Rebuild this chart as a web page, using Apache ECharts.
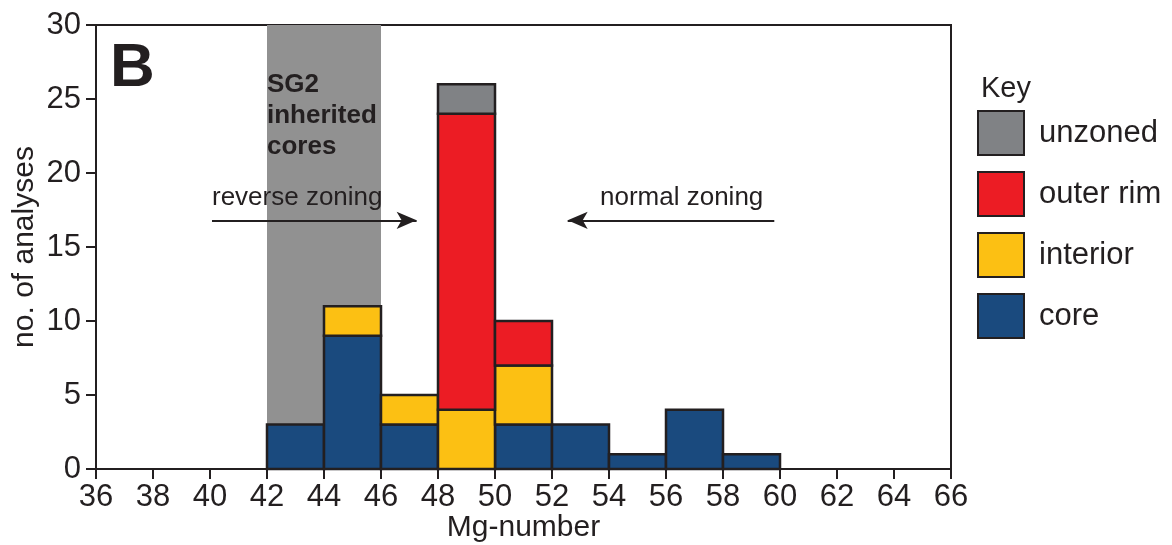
<!DOCTYPE html>
<html>
<head>
<meta charset="utf-8">
<title>Mg-number histogram</title>
<script src="https://cdn.jsdelivr.net/npm/echarts@6/dist/echarts.min.js"></script>
<style>
  html, body { margin: 0; padding: 0; background: #ffffff; }
  #chart { width: 1172px; height: 545px; }
</style>
</head>
<body>
<div id="chart"></div>
<script>
// Histogram bins (Mg-number, bin width 2)
const binStart = [42, 44, 46, 48, 50, 52, 54, 56, 58];
const binWidth = 2;

// Counts per zone, stacked bottom-up: core, interior, outer rim, unzoned
const core     = [3, 9, 3, 0, 3, 3, 1, 4, 1];
const interior = [0, 2, 2, 4, 4, 0, 0, 0, 0];
const outerRim = [0, 0, 0, 20, 3, 0, 0, 0, 0];
const unzoned  = [0, 0, 0, 2, 0, 0, 0, 0, 0];

const xTicks = [36, 38, 40, 42, 44, 46, 48, 50, 52, 54, 56, 58, 60, 62, 64, 66];
const yTicks = [0, 5, 10, 15, 20, 25, 30];

// Inherited-core range (Mg-number)
const sg2Range = [42, 46];

const INK = '#231f20';
const FONT = '"Liberation Sans", Arial, Helvetica, sans-serif';

const layers = [
  { name: 'core',      values: core,     color: '#1a4a7e' },
  { name: 'interior',  values: interior, color: '#fcc013' },
  { name: 'outer rim', values: outerRim, color: '#ec1c24' },
  { name: 'unzoned',   values: unzoned,  color: '#808285' }
];

// Build [x0, x1, y0, y1] rows for each stacked layer
const running = binStart.map(() => 0);
const layerRows = layers.map(layer => {
  const rows = [];
  layer.values.forEach((v, i) => {
    const y0 = running[i];
    const y1 = y0 + v;
    running[i] = y1;
    if (v > 0) rows.push([binStart[i], binStart[i] + binWidth, y0, y1]);
  });
  return rows;
});

function renderBar(params, api) {
  const p0 = api.coord([api.value(0), api.value(3)]);
  const p1 = api.coord([api.value(1), api.value(2)]);
  return {
    type: 'rect',
    shape: { x: p0[0], y: p0[1], width: p1[0] - p0[0], height: p1[1] - p0[1] },
    style: { fill: api.visual('color'), stroke: INK, lineWidth: 2.5 }
  };
}

const barSeries = layers.map((layer, k) => ({
  name: layer.name,
  type: 'custom',
  renderItem: renderBar,
  data: layerRows[k],
  encode: { x: [0, 1], y: [2, 3] },
  itemStyle: { color: layer.color, borderColor: INK, borderWidth: 2 },
  z: 3,
  silent: true
}));

// Background band and zoning arrows
const annotationSeries = {
  name: 'annotations',
  type: 'custom',
  renderItem: () => ({ type: 'group', children: [] }),
  data: [[sg2Range[0], sg2Range[1], 0, 0]],
  encode: { x: [0, 1], y: [2, 3] },
  z: 1,
  silent: true,
  markArea: {
    silent: true,
    itemStyle: { color: '#919191' },
    label: {
      show: true,
      position: 'insideTopLeft',
      distance: 0,
      padding: [44, 0, 0, 0],
      formatter: 'SG2\ninherited\ncores',
      fontFamily: FONT,
      fontWeight: 'bold',
      fontSize: 26,
      lineHeight: 31,
      color: INK
    },
    data: [[{ xAxis: sg2Range[0], yAxis: 30 }, { xAxis: sg2Range[1], yAxis: 0 }]]
  },
  markLine: {
    silent: true,
    animation: false,
    symbolSize: [13, 20],
    lineStyle: { color: INK, width: 2, type: 'solid' },
    label: {
      show: true,
      fontFamily: FONT,
      fontSize: 26,
      color: INK
    },
    data: [
      [
        { coord: [40.07, 16.8], symbol: 'none',
          label: { formatter: 'reverse zoning', position: 'insideStartTop', distance: [0, 10] } },
        { coord: [47.25, 16.8], symbol: 'arrow' }
      ],
      [
        { coord: [52.55, 16.8], symbol: 'arrow',
          label: { formatter: 'normal zoning', position: 'insideEndTop', distance: [11, 10] } },
        { coord: [59.8, 16.8], symbol: 'none' }
      ]
    ]
  }
};

const chart = echarts.init(document.getElementById('chart'), null, { renderer: 'canvas' });

chart.setOption({
  animation: false,
  backgroundColor: '#ffffff',
  textStyle: { fontFamily: FONT, color: INK },
  grid: {
    left: 96, right: 221, top: 25, bottom: 76,
    outerBoundsMode: 'none',
    containLabel: false,
    show: true, borderColor: INK, borderWidth: 2, backgroundColor: 'transparent'
  },
  title: {
    text: 'Key',
    left: 981, top: 74,
    padding: 0,
    textStyle: { fontFamily: FONT, fontSize: 29, fontWeight: 'normal', color: INK }
  },
  legend: {
    orient: 'vertical',
    left: 977, top: 110,
    padding: 0,
    itemWidth: 46, itemHeight: 44,
    itemGap: 15,
    icon: 'rect',
    selectedMode: false,
    data: ['unzoned', 'outer rim', 'interior', 'core'],
    itemStyle: { borderColor: INK, borderWidth: 2 },
    textStyle: { fontFamily: FONT, fontSize: 31, color: INK, padding: [0, 0, 0, 10] }
  },
  graphic: [{
    type: 'text',
    left: 110, top: 38,
    style: { text: 'B', font: 'bold 62px ' + FONT, fill: INK }
  }],
  xAxis: {
    type: 'value',
    min: xTicks[0], max: xTicks[xTicks.length - 1], interval: 2,
    name: 'Mg-number',
    nameLocation: 'middle',
    nameGap: 44,
    nameMoveOverlap: false,
    nameTextStyle: { fontFamily: FONT, fontSize: 30, color: INK },
    axisLine: { show: true, onZero: false, lineStyle: { color: INK, width: 2 } },
    axisTick: { show: true, inside: false, length: 10, lineStyle: { color: INK, width: 2 } },
    axisLabel: { fontFamily: FONT, fontSize: 31, color: INK, margin: 13,
                 customValues: xTicks, formatter: v => String(v) },
    splitLine: { show: false }
  },
  yAxis: {
    type: 'value',
    min: yTicks[0], max: yTicks[yTicks.length - 1], interval: 5,
    name: 'no. of analyses',
    nameLocation: 'middle',
    nameGap: 56,
    nameMoveOverlap: false,
    nameTextStyle: { fontFamily: FONT, fontSize: 30, color: INK },
    axisLine: { show: true, lineStyle: { color: INK, width: 2 } },
    axisTick: { show: true, inside: false, length: 10, lineStyle: { color: INK, width: 2 } },
    axisLabel: { fontFamily: FONT, fontSize: 31, color: INK, margin: 15 },
    splitLine: { show: false }
  },
  series: [annotationSeries].concat(barSeries)
});
</script>
</body>
</html>
